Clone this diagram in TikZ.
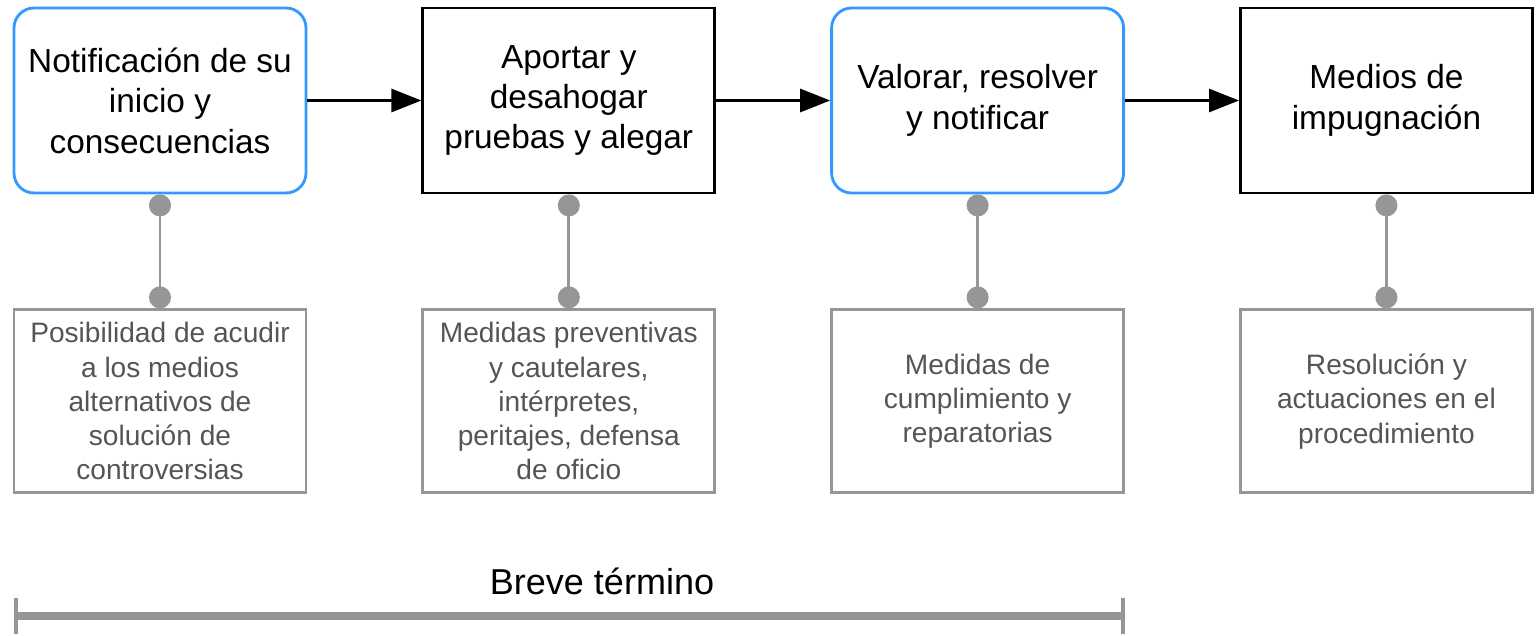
\documentclass[tikz,border=0pt]{standalone}
\usepackage{fontspec}
\setmainfont{Liberation Sans}
\usepackage{xcolor}
\usetikzlibrary{arrows.meta,positioning}

\definecolor{boxblue}{RGB}{51,153,255}
\definecolor{linegray}{RGB}{150,150,150}
\definecolor{notegray}{RGB}{85,85,85}

\begin{document}
\begin{tikzpicture}[
      > = {Triangle[length=6mm,width=4.6mm]},
      node distance = 2.28cm
    ]
    \tikzstyle{main node} = [draw, line width=1.6pt, minimum width=5.84cm, minimum height=3.7cm, align=center, font=\fontsize{19}{23}\selectfont]
    \tikzstyle{blue node} = [main node, draw=boxblue, rounded corners=0.4cm]
    \tikzstyle{black node} = [main node, draw=black]
    \tikzstyle{note node} = [draw=linegray, line width=1.6pt, text=notegray, minimum width=5.84cm, minimum height=3.66cm, align=center, font=\fontsize{16}{19.5}\selectfont]
    \tikzstyle{my line} = [->, line width=1.6pt]
    \tikzstyle{pin line} = [{Circle[length=4.4mm]}-{Circle[length=4.4mm]}, line width=1.7pt, color=linegray]
    \tikzstyle{time line} = [{Bar[width=7.2mm,line width=0.8mm]}-{Bar[width=7.2mm,line width=0.8mm]}, line width=0.16cm, color=linegray]
    \useasboundingbox (0,0) rectangle (30.74,-12.70);
    % steps
    \node[blue node] (notif) at (3.2,-2.01) {Notificación de su\\inicio y\\consecuencias};
    \node[black node] (aport) [right=of notif] {Aportar y\\desahogar\\pruebas y alegar};
    \node[blue node] (valor) [right=of aport] {Valorar, resolver\\y notificar};
    \node[black node] (medios) [right=of valor] {Medios de\\impugnación};
    % notes
    \node[note node] (posib) [below=2.28cm of notif] {Posibilidad de acudir\\a los medios\\alternativos de\\solución de\\controversias};
    \node[note node] (medpre) [below=2.28cm of aport] {Medidas preventivas\\y cautelares,\\intérpretes,\\peritajes, defensa\\de oficio};
    \node[note node] (medcum) [below=2.28cm of valor] {Medidas de\\cumplimiento y\\reparatorias};
    \node[note node] (resol) [below=2.28cm of medios] {Resolución y\\actuaciones en el\\procedimiento};
    \draw[my line] (notif) -- (aport);
    \draw[my line] (aport) -- (valor);
    \draw[my line] (valor) -- (medios);
    \draw[pin line] (notif) -- (posib);
    \draw[pin line] (aport) -- (medpre);
    \draw[pin line] (valor) -- (medcum);
    \draw[pin line] (medios) -- (resol);
    % time span
    \coordinate (t0) at (0.28,-12.32);
    \coordinate (t1) at (22.5,-12.32);
    \draw[time line] (t0) -- (t1);
    \node[font=\fontsize{20.5}{24}\selectfont] (brief) at (12.04,-11.62) {Breve término};
  \end{tikzpicture}
\end{document}
